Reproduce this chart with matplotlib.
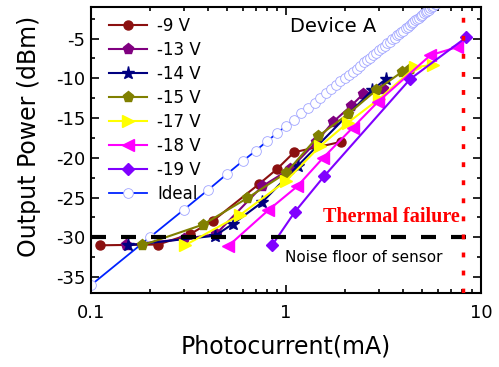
import matplotlib
matplotlib.use("Agg")
import matplotlib.pyplot as plt
from matplotlib.ticker import LogLocator, NullFormatter, MultipleLocator, FixedFormatter, FixedLocator

# ---------------------- data ----------------------
i_9v = [0.111, 0.221, 0.322, 0.423, 0.727, 0.90, 1.10, 1.91]
p_9v = [-31.0, -30.9, -29.6, -27.9, -23.3, -21.4, -19.3, -18.0]

i_13v = [0.151, 0.30, 0.437, 0.753, 1.05, 1.43, 1.74, 2.15, 2.48, 3.14]
p_13v = [-31.0, -30.2, -29.6, -23.6, -21.4, -18.0, -15.5, -13.5, -12.0, -11.4]

i_14v = [0.155, 0.432, 0.535, 0.753, 1.15, 2.76, 3.25]
p_14v = [-31.0, -29.8, -28.3, -25.6, -21.0, -11.5, -10.1]

i_15v = [0.183, 0.375, 0.63, 1.0, 1.46, 2.08, 2.9, 3.93, 4.3]
p_15v = [-31.0, -28.4, -25.1, -21.9, -17.3, -14.5, -11.5, -9.2, -8.8]

i_17v = [0.303, 0.58, 1.0, 1.5, 2.07, 3.0, 4.6, 5.7]
p_17v = [-31.0, -27.2, -22.9, -18.5, -15.6, -12.6, -8.6, -8.3]

i_18v = [0.505, 0.81, 1.14, 1.55, 2.2, 2.95, 5.5, 7.5]
p_18v = [-31.1, -26.6, -23.6, -20.0, -16.2, -13.0, -7.1, -6.1]

i_19v = [0.848, 1.11, 1.57, 4.33, 8.4]
p_19v = [-31.0, -26.8, -22.3, -10.1, -4.85]

i_ideal = [0.1, 0.2, 0.3, 0.4, 0.5, 0.6, 0.7, 0.8, 0.9, 1.0,
           1.1, 1.2, 1.3, 1.4, 1.5, 1.6, 1.7, 1.8, 1.9, 2.0,
           2.1, 2.2, 2.3, 2.4, 2.5, 2.6, 2.7, 2.8, 2.9, 3.0,
           3.1, 3.2, 3.3, 3.4, 3.5, 3.6, 3.7, 3.8, 3.9, 4.0,
           4.1, 4.2, 4.3, 4.4, 4.5, 4.6, 4.7, 4.8, 4.9, 5.0,
           5.1, 5.2, 5.3, 5.4, 5.5, 5.6, 5.7, 5.8, 5.9, 6.0]
p_ideal = [-36.0, -30.0, -26.5, -24.0, -22.0, -20.4, -19.1, -17.9, -16.9, -16.0,
           -15.2, -14.4, -13.7, -13.1, -12.5, -11.9, -11.4, -10.9, -10.4, -10.0,
           -9.6, -9.2, -8.8, -8.4, -8.0, -7.7, -7.4, -7.1, -6.8, -6.5,
           -6.2, -5.9, -5.6, -5.4, -5.1, -4.9, -4.6, -4.4, -4.2, -4.0,
           -3.7, -3.5, -3.3, -3.1, -2.9, -2.7, -2.6, -2.4, -2.2, -2.0,
           -1.8, -1.7, -1.5, -1.4, -1.2, -1.0, -0.9, -0.7, -0.6, -0.4]

noise_floor = -30
thermal_limit = 8.1

x_ticks = [0.1, 1, 10]
x_tick_labels = ["0.1", "1", "10"]

# ---------------------- style ----------------------
plt.rcParams["font.family"] = ["DejaVu Sans"]
plt.rcParams["axes.unicode_minus"] = False

fig = plt.figure(figsize=(4.99, 3.67), dpi=100)
ax = fig.add_axes([0.1824, 0.2016, 0.7816, 0.7801])

series = [
    (i_9v, p_9v, "-9 V", "#8b1010", "o", 6.5),
    (i_13v, p_13v, "-13 V", "#800080", "p", 8),
    (i_14v, p_14v, "-14 V", "#000080", "*", 9.5),
    (i_15v, p_15v, "-15 V", "#808000", "p", 8),
    (i_17v, p_17v, "-17 V", "#ffff00", ">", 8),
    (i_18v, p_18v, "-18 V", "#ff00ff", "<", 8),
    (i_19v, p_19v, "-19 V", "#8000ff", "D", 6),
]
for x, y, label, color, marker, ms in series:
    ax.plot(x, y, color=color, lw=1.5, marker=marker, ms=ms,
            markeredgecolor=color, label=label, zorder=3)

ax.plot(i_ideal, p_ideal, color="#0022ff", lw=1.3, marker="o", ms=7,
        markerfacecolor="white", markeredgecolor="#a0a4ff", markeredgewidth=0.6,
        label="Ideal", zorder=2)

# noise floor and thermal failure limit
ax.axhline(noise_floor, color="black", lw=3, linestyle=(0, (3.6, 3.6)), zorder=4)
ax.axvline(thermal_limit, color="red", lw=2.5, linestyle=(0, (1.4, 3.8)), zorder=4)

ax.text(1.74, -3.45, "Device A", fontsize=14, ha="center", va="center")
ax.text(7.8, -27.4, "Thermal failure", fontsize=14.5, color="red",
        fontweight="bold", family="Liberation Serif", ha="right", va="center")
ax.text(0.99, -32.5, "Noise floor of sensor", fontsize=11, ha="left", va="center")

# ---------------------- axes ----------------------
ax.set_xscale("log")
ax.set_xlim(0.1, 10)
ax.set_ylim(-37, -1)

ax.xaxis.set_major_locator(FixedLocator(x_ticks))
ax.xaxis.set_major_formatter(FixedFormatter(x_tick_labels))
ax.xaxis.set_minor_locator(LogLocator(base=10, subs=range(2, 10)))
ax.xaxis.set_minor_formatter(NullFormatter())
ax.yaxis.set_major_locator(MultipleLocator(5))
ax.yaxis.set_minor_locator(MultipleLocator(2.5))

ax.tick_params(which="both", direction="in", top=True, right=True, width=1.2)
ax.tick_params(which="major", length=6, labelsize=13)
ax.tick_params(which="minor", length=3)
ax.tick_params(axis="x", which="major", pad=8)
ax.tick_params(axis="y", which="major", pad=4)
for s in ax.spines.values():
    s.set_linewidth(1.5)

ax.set_xlabel("Photocurrent(mA)", fontsize=17)
ax.set_ylabel("Output Power (dBm)", fontsize=17)
ax.xaxis.set_label_coords(0.5, -0.145)
ax.yaxis.set_label_coords(-0.128, 0.548)

ax.legend(loc="upper left", bbox_to_anchor=(0.045, 0.965), frameon=False,
          fontsize=12, handlelength=2.3, handletextpad=0.6, labelspacing=0.36,
          borderpad=0, borderaxespad=0)

fig.savefig("out.png", dpi=100)
